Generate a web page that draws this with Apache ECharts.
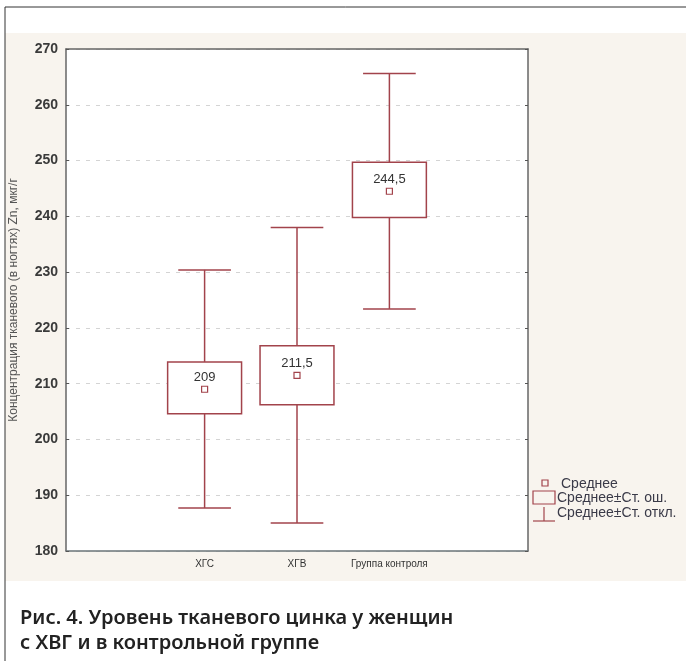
<!DOCTYPE html>
<html><head><meta charset="utf-8">
<script src="https://cdn.jsdelivr.net/npm/echarts@6/dist/echarts.min.js"></script>
<style>html,body{margin:0;padding:0;background:#fff}#c{width:686px;height:661px}</style>
</head><body><div id="c"></div>
<script>
var categories = ['', 'ХГС', 'ХГВ', 'Группа контроля', ''];
var groupIndex = [1, 2, 3];
var means = [209, 211.5, 244.5];
var seLow = [204.6, 206.2, 239.8];
var seHigh = [213.9, 216.8, 249.7];
var sdLow = [187.7, 185.0, 223.4];
var sdHigh = [230.4, 238.0, 265.6];
var yMin = 180, yMax = 270, yStep = 10;

var boxColor = '#a2434b';
var data = groupIndex.map(function (g, i) {
  return [g, means[i], seLow[i], seHigh[i], sdLow[i], sdHigh[i]];
});

function renderItem(params, api) {
  var x = api.value(0);
  var m = api.coord([x, api.value(1)]);
  var seL = api.coord([x, api.value(2)]);
  var seH = api.coord([x, api.value(3)]);
  var sdL = api.coord([x, api.value(4)]);
  var sdH = api.coord([x, api.value(5)]);
  var band = api.size([1, 0])[0];
  var bw = band * 0.80, cw = band * 0.57;
  var cx = m[0];
  var lineStyle = { stroke: boxColor, lineWidth: 1.5, fill: null };
  var label = String(api.value(1)).replace('.', ',');
  return {
    type: 'group',
    children: [
      { type: 'line', shape: { x1: cx, y1: sdH[1], x2: cx, y2: seH[1] }, style: lineStyle },
      { type: 'line', shape: { x1: cx, y1: seL[1], x2: cx, y2: sdL[1] }, style: lineStyle },
      { type: 'line', shape: { x1: cx - cw / 2, y1: sdH[1], x2: cx + cw / 2, y2: sdH[1] }, style: lineStyle },
      { type: 'line', shape: { x1: cx - cw / 2, y1: sdL[1], x2: cx + cw / 2, y2: sdL[1] }, style: lineStyle },
      { type: 'rect', shape: { x: cx - bw / 2, y: seH[1], width: bw, height: seL[1] - seH[1] },
        style: { stroke: boxColor, lineWidth: 1.5, fill: '#fff' } },
      { type: 'rect', shape: { x: cx - 3, y: m[1] - 3, width: 6, height: 6 },
        style: { stroke: boxColor, lineWidth: 1.2, fill: '#fff' } },
      { type: 'text', x: cx, y: m[1] - 12,
        style: { text: label, fill: '#333', font: '13px Arial, "Liberation Sans", sans-serif',
          align: 'center', verticalAlign: 'middle' } }
    ]
  };
}

var chart = echarts.init(document.getElementById('c'), null, { renderer: 'canvas' });
var legendText = { fill: '#3a3a48', font: '14px Arial, "Liberation Sans", sans-serif', verticalAlign: 'middle' };
chart.setOption({
  backgroundColor: '#fff',
  animation: false,
  grid: { left: 66, right: 158, top: 49, bottom: 110, outerBoundsMode: 'none', containLabel: false,
    show: true, backgroundColor: '#fff', borderWidth: 0 },
  xAxis: [{
    type: 'category', data: categories, boundaryGap: true,
    axisLine: { lineStyle: { color: '#6b7478', width: 1.5 } },
    axisTick: { inside: true, alignWithLabel: true, interval: 0, length: 3, lineStyle: { color: '#555' } },
    axisLabel: { interval: 0, color: '#333', fontSize: 10, fontFamily: 'Arial, "Liberation Sans", sans-serif', margin: 8 },
    splitLine: { show: false }
  }, {
    type: 'category', data: categories, boundaryGap: true, position: 'top',
    axisLine: { lineStyle: { color: '#666', width: 1.5 } },
    axisTick: { inside: true, alignWithLabel: true, interval: 0, length: 3, lineStyle: { color: '#555' } },
    axisLabel: { show: false }
  }],
  yAxis: [{
    type: 'value', min: yMin, max: yMax, interval: yStep,
    name: 'Концентрация тканевого (в ногтях) Zn, мкг/г',
    nameLocation: 'middle', nameGap: 46, nameRotate: 90,
    nameTextStyle: { color: '#555', fontSize: 12, fontFamily: 'Arial, "Liberation Sans", sans-serif' },
    axisLine: { show: true, lineStyle: { color: '#666', width: 1.5 } },
    axisTick: { show: true, inside: true, length: 3, lineStyle: { color: '#555' } },
    axisLabel: { color: '#3a3a3a', fontSize: 14, fontWeight: 'bold', fontFamily: '"Liberation Sans Narrow", Arial, sans-serif', margin: 8 },
    splitLine: { show: true, lineStyle: { color: '#d4d4d4', type: [4, 6], width: 1 } }
  }, {
    type: 'value', min: yMin, max: yMax, interval: yStep, position: 'right',
    axisLine: { show: true, lineStyle: { color: '#666', width: 1.5 } },
    axisTick: { show: true, inside: true, length: 3, lineStyle: { color: '#555' } },
    axisLabel: { show: false }, splitLine: { show: false }
  }],
  series: [{
    type: 'custom', renderItem: renderItem, data: data,
    encode: { x: 0, y: [1, 2, 3, 4, 5] }, clip: false, z: 5
  }],
  graphic: [
    { type: 'rect', z: -100, shape: { x: 5, y: 33, width: 681, height: 548 }, style: { fill: '#f8f4ee' } },
    { type: 'line', z: 100, shape: { x1: 5, y1: 7, x2: 686, y2: 7 }, style: { stroke: '#333', lineWidth: 1 } },
    { type: 'line', z: 100, shape: { x1: 5, y1: 7, x2: 5, y2: 661 }, style: { stroke: '#333', lineWidth: 1 } },
    // legend
    { type: 'rect', z: 100, shape: { x: 542, y: 480, width: 6, height: 6 }, style: { stroke: boxColor, lineWidth: 1.2, fill: 'none' } },
    { type: 'text', z: 100, x: 561, y: 484, style: Object.assign({ text: 'Среднее' }, legendText) },
    { type: 'rect', z: 100, shape: { x: 533, y: 491, width: 22, height: 13 }, style: { stroke: boxColor, lineWidth: 1.2, fill: 'none' } },
    { type: 'text', z: 100, x: 557, y: 498, style: Object.assign({ text: 'Среднее±Ст. ош.' }, legendText) },
    { type: 'line', z: 100, shape: { x1: 544, y1: 507, x2: 544, y2: 521 }, style: { stroke: boxColor, lineWidth: 1.2 } },
    { type: 'line', z: 100, shape: { x1: 533, y1: 521, x2: 555, y2: 521 }, style: { stroke: boxColor, lineWidth: 1.2 } },
    { type: 'text', z: 100, x: 557, y: 513, style: Object.assign({ text: 'Среднее±Ст. откл.' }, legendText) },
    // caption
    { type: 'text', z: 100, x: 20, y: 618, style: { text: 'Рис. 4. Уровень тканевого цинка у женщин', fill: '#222', font: '600 20px "Noto Sans", sans-serif', verticalAlign: 'middle' } },
    { type: 'text', z: 100, x: 20, y: 643, style: { text: 'с ХВГ и в контрольной группе', fill: '#222', font: '600 20px "Noto Sans", sans-serif', verticalAlign: 'middle' } }
  ]
});
</script></body></html>
